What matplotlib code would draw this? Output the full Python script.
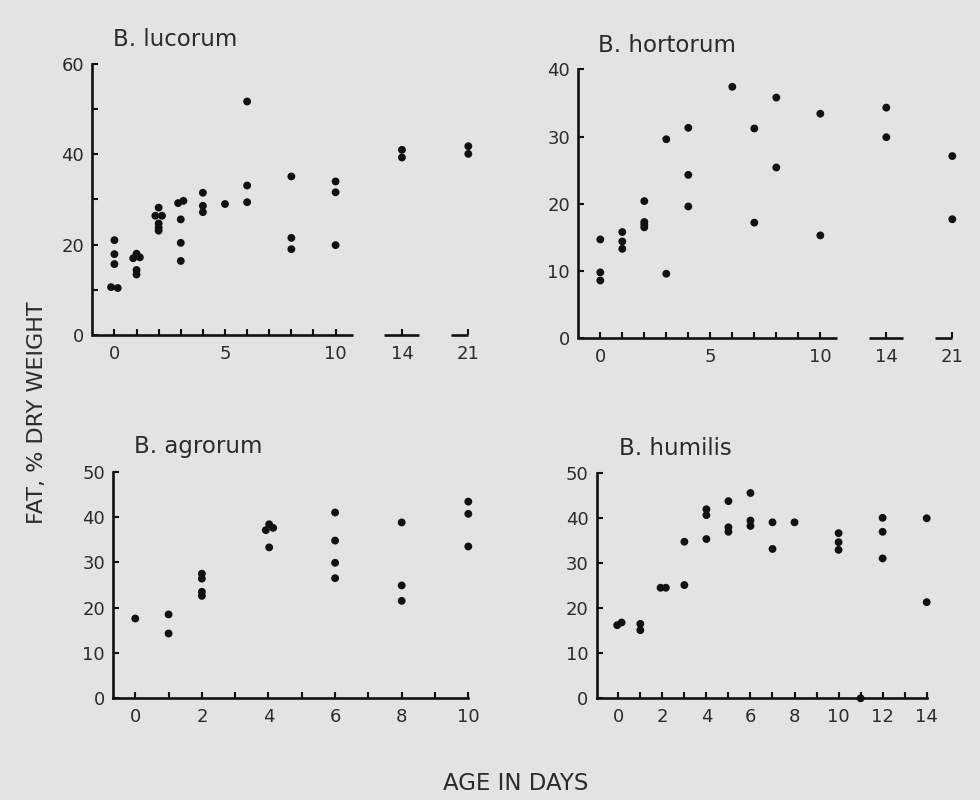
import matplotlib
matplotlib.use("Agg")
import matplotlib.pyplot as plt

# ---------------- data ----------------
lucorum_days = [0, 0, 0, -0.15, 0.15,
                1, 0.85, 1.15, 1, 1,
                2, 1.85, 2.15, 2, 2, 2,
                2.88, 3.12, 3, 3, 3,
                4, 4, 4,
                5,
                6, 6, 6,
                8, 8, 8,
                10, 10, 10,
                14, 14,
                21, 21]
lucorum_fat = [21.0, 17.9, 15.7, 10.6, 10.4,
               18.0, 17.0, 17.2, 14.4, 13.4,
               28.2, 26.4, 26.4, 24.7, 23.8, 23.1,
               29.2, 29.7, 25.6, 20.4, 16.4,
               31.5, 28.6, 27.2,
               29.0,
               51.7, 33.1, 29.4,
               35.1, 21.5, 19.0,
               34.0, 31.6, 19.9,
               41.0, 39.3,
               41.8, 40.1]

hortorum_days = [0, 0, 0, 1, 1, 1, 2, 2, 2, 2, 3, 3, 4, 4, 4, 6, 7, 7, 8, 8,
                 10, 10, 14, 14, 21, 21]
hortorum_fat = [14.7, 9.8, 8.6, 15.8, 14.4, 13.3, 20.4, 17.3, 16.9, 16.5,
                29.6, 9.6, 31.3, 24.3, 19.6, 37.4, 31.2, 17.2, 35.8, 25.4,
                33.4, 15.3, 34.3, 29.9, 27.1, 17.7]

agrorum_days = [0, 1, 1, 2, 2, 2, 2, 3.92, 4.02, 4.14, 4.02, 6, 6, 6, 6,
                8, 8, 8, 10, 10, 10]
agrorum_fat = [17.6, 18.5, 14.3, 27.5, 26.4, 23.5, 22.6, 37.1, 38.4, 37.6, 33.3,
               41.0, 34.8, 29.9, 26.5, 38.8, 24.9, 21.5, 43.4, 40.7, 33.5]

humilis_days = [-0.05, 0.15, 1, 1, 1.92, 2.16, 3, 3, 4, 4, 4, 5, 5, 5, 6, 6, 6,
                7, 7, 8, 10, 10, 10, 11, 12, 12, 12, 14, 14]
humilis_fat = [16.2, 16.8, 16.5, 15.1, 24.5, 24.5, 34.7, 25.1, 41.9, 40.6, 35.3,
               43.7, 37.9, 36.9, 45.5, 39.4, 38.2, 39.0, 33.1, 39.0,
               36.6, 34.6, 32.9, 0.0, 40.0, 36.9, 31.0, 39.9, 21.3]

broken_tick_days = [0, 1, 2, 3, 4, 5, 6, 7, 8, 9, 10, 14, 21]
broken_label_days = [0, 5, 10, 14, 21]

# ---------------- style ----------------
BG = "#e3e3e1"
INK = "#111111"
TXT = "#2b2b2b"
FONT = ["DejaVu Sans"]
plt.rcParams["font.family"] = FONT

# positions of the broken axis (days beyond 10 are compressed)
BREAK_POS = {14: 13.0, 21: 16.0}


def day_pos(d):
    return BREAK_POS.get(d, d)


fig = plt.figure(figsize=(9.8, 8.0), dpi=100, facecolor=BG)


def px_axes(left, right, bottom, top):
    W, H = 980.0, 800.0
    return fig.add_axes([left / W, 1 - bottom / H, (right - left) / W, (bottom - top) / H])


def style(ax):
    ax.set_facecolor("none")
    for s in ("top", "right"):
        ax.spines[s].set_visible(False)
    for s in ("left", "bottom"):
        ax.spines[s].set_linewidth(1.9)
        ax.spines[s].set_color(INK)
    ax.tick_params(direction="in", length=4.5, width=1.5, color=INK,
                   labelsize=13, labelcolor=TXT)
    ax.tick_params(axis="y", pad=6)
    ax.tick_params(axis="x", pad=7)
    ax.tick_params(which="minor", direction="in", length=4.5, width=1.5, color=INK)


def dots(ax, xs, ys):
    ax.scatter(xs, ys, s=32, color=INK, edgecolors="none", clip_on=False, zorder=3)


def broken_axis(ax, segments):
    ax.spines["bottom"].set_visible(False)
    for a, b in segments:
        ax.plot([a, b], [0, 0], color=INK, lw=1.9, solid_capstyle="butt",
                transform=ax.get_xaxis_transform(), clip_on=False)


# ---- B. lucorum ----
ax1 = px_axes(92.3, 468.3, 335, 64)
style(ax1)
dots(ax1, [day_pos(d) for d in lucorum_days], lucorum_fat)
ax1.set_xlim(-1, 16)
ax1.set_ylim(0, 60)
ax1.set_yticks([0, 20, 40, 60])
ax1.set_yticks([10, 30, 50], minor=True)
ax1.set_xticks([day_pos(d) for d in broken_tick_days])
ax1.set_xticklabels([str(d) if d in broken_label_days else "" for d in broken_tick_days])
broken_axis(ax1, [(-1, 10.8), (12.2, 13.75), (15.2, 16.0)])

# ---- B. hortorum ----
ax2 = px_axes(578.3, 952.3, 338.3, 69.3)
style(ax2)
dots(ax2, [day_pos(d) for d in hortorum_days], hortorum_fat)
ax2.set_xlim(-1, 16)
ax2.set_ylim(0, 40)
ax2.set_yticks([0, 10, 20, 30, 40])
ax2.set_xticks([day_pos(d) for d in broken_tick_days])
ax2.set_xticklabels([str(d) if d in broken_label_days else "" for d in broken_tick_days])
broken_axis(ax2, [(-0.95, 10.75), (12.2, 13.76), (15.2, 16.0)])

# ---- B. agrorum ----
ax3 = px_axes(113.3, 468.3, 698.3, 471.7)
style(ax3)
dots(ax3, agrorum_days, agrorum_fat)
ax3.set_xlim(-0.66, 10)
ax3.set_ylim(0, 50)
ax3.set_yticks(range(0, 51, 10))
ax3.set_xticks(range(0, 11))
ax3.set_xticklabels([str(d) if d % 2 == 0 else "" for d in range(0, 11)])

# ---- B. humilis ----
ax4 = px_axes(596.7, 926.7, 698.3, 472.7)
style(ax4)
dots(ax4, humilis_days, humilis_fat)
ax4.set_xlim(-0.98, 14)
ax4.set_ylim(0, 50)
ax4.set_yticks(range(0, 51, 10))
ax4.set_xticks(range(0, 15))
ax4.set_xticklabels([str(d) if d % 2 == 0 else "" for d in range(0, 15)])

# ---- titles and axis labels ----
def ftext(x, y, s, **kw):
    fig.text(x / 980.0, 1 - y / 800.0, s, color=TXT, **kw)

ftext(113, 46, "B. lucorum", fontsize=16.5, va="baseline", ha="left")
ftext(598, 52, "B. hortorum", fontsize=16.5, va="baseline", ha="left")
ftext(134, 453, "B. agrorum", fontsize=16.5, va="baseline", ha="left")
ftext(619, 455, "B. humilis", fontsize=16.5, va="baseline", ha="left")
ftext(37, 413, "FAT, % DRY WEIGHT", fontsize=16, va="center", ha="center", rotation=90)
ftext(516, 790, "AGE IN DAYS", fontsize=16.5, va="baseline", ha="center")

fig.savefig("out.png", dpi=100, facecolor=BG)
